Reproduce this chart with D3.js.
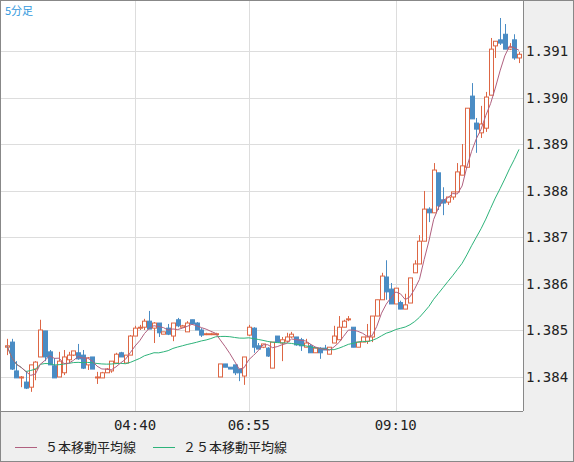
<!DOCTYPE html>
<html><head><meta charset="utf-8">
<script src="https://cdn.jsdelivr.net/npm/d3@7"></script>
<style>body{margin:0;background:#fff}svg{display:block}</style>
</head><body><svg id="c" width="574" height="462"></svg>
<script>
// prices expressed as 1.38 + v/100000 : [open, high, low, close]
const candlesV = [
[463,481,446,466],[474,481,414,416],[412,433,397,397],[397,401,377,399],[388,412,373,375],
[377,425,367,425],[416,433,392,431],[442,522,442,500],[498,498,433,442],[453,457,425,425],
[423,440,397,397],[399,453,399,433],[408,457,403,442],[436,453,429,446],[446,455,444,455],
[451,470,436,438],[446,457,416,418],[425,442,414,440],[442,442,416,416],[397,410,384,399],
[397,410,397,408],[408,418,408,416],[412,433,408,433],[429,451,429,448],[451,453,442,442],
[429,446,429,446],[446,489,446,487],[487,509,487,504],[504,511,500,506],[506,524,500,519],
[519,541,502,502],[504,517,472,515],[515,515,485,494],[491,496,491,496],[504,513,489,491],
[487,515,476,515],[522,526,506,509],[506,511,506,509],[496,519,496,515],[522,522,511,513],
[515,517,500,500],[500,504,485,489],[491,494,489,492],[491,494,489,492],[491,494,489,492],
[399,427,399,427],[427,427,420,420],[420,420,416,416],[425,425,403,408],[416,416,390,408],
[401,442,382,442],[489,511,487,506],[504,506,451,463],[466,472,459,459],[463,470,461,470],
[461,463,442,444],[418,474,418,474],[487,487,474,474],[472,485,433,479],[476,494,474,485],
[485,496,483,491],[485,485,466,468],[479,483,455,466],[463,481,463,472],[466,470,451,451],
[451,463,451,461],[461,463,438,451],[461,468,457,457],[448,463,448,463],[472,509,472,487],
[479,530,479,506],[506,522,506,519],[522,530,519,524],[506,506,463,463],[463,474,463,474],
[474,485,474,485],[476,513,470,485],[485,530,474,530],[530,565,530,565],[565,623,565,616],
[614,650,565,582],[588,601,556,556],[556,590,556,590],[559,563,545,545],[545,578,545,554],
[558,612,558,612],[623,650,623,642],[642,704,642,691],[691,799,691,760],[760,764,732,752],
[752,859,752,844],[838,838,758,767],[780,807,747,773],[775,786,769,786],[786,797,780,797],
[797,859,797,840],[833,900,833,853],[850,977,850,977],[1003,1031,954,954],[945,956,881,932],
[924,982,913,943],[934,1012,926,1001],[1005,1128,1005,1104],[1111,1121,1085,1121],[1124,1171,1113,1117],
[1136,1158,1104,1104],[1104,1117,1102,1108],[1124,1136,1081,1085],[1085,1098,1074,1093]
];
const timeLabels = ["04:40","06:55","09:10"];
const timeIdx = [27,51,82];
const yTicks = [1.384,1.385,1.386,1.387,1.388,1.389,1.390,1.391];
const legendNames = ["５本移動平均線","２５本移動平均線"];
const periodLabel = "5分足";

const data = candlesV.map(a=>({o:1.38+a[0]/1e5,h:1.38+a[1]/1e5,l:1.38+a[2]/1e5,c:1.38+a[3]/1e5}));
function sma(n){return data.map((d,i)=>{const s=data.slice(Math.max(0,i-n+1),i+1);return d3.mean(s,e=>e.c);});}
const ma5=sma(5), ma25=sma(25);

const svg=d3.select("#c");
const W=574,H=462,PR=523,PB=411;
svg.append("rect").attr("width",W).attr("height",H).attr("fill","#efefef");
svg.append("rect").attr("x",1).attr("y",1).attr("width",PR-1).attr("height",PB-1).attr("fill","#fff");
const x=d3.scaleLinear().domain([0,data.length-1]).range([7,519]);
const y=d3.scaleLinear().domain([1.385,1.391]).range([330,51]);
const g=svg.append("g");
g.selectAll(".gy").data(yTicks).join("line").attr("x1",1).attr("x2",PR).attr("y1",d=>Math.round(y(d))+0.5).attr("y2",d=>Math.round(y(d))+0.5).attr("stroke","#dddddd");
g.selectAll(".gx").data(timeIdx).join("line").attr("y1",0).attr("y2",PB).attr("x1",d=>Math.round(x(d))+0.5).attr("x2",d=>Math.round(x(d))+0.5).attr("stroke","#dddddd");
const up="#dd6644", dn="#4a8cc4";
const cg=g.selectAll(".cd").data(data).join("g");
cg.append("line").attr("x1",(d,i)=>Math.round(x(i))+0.5).attr("x2",(d,i)=>Math.round(x(i))+0.5)
 .attr("y1",d=>y(d.h)).attr("y2",d=>y(d.l)).attr("stroke",d=>d.c>=d.o?up:dn);
cg.append("rect").attr("x",(d,i)=>Math.round(x(i))-1.5).attr("width",4)
 .attr("y",d=>y(Math.max(d.o,d.c))).attr("height",d=>Math.max(1,Math.abs(y(d.o)-y(d.c))))
 .attr("fill",d=>d.c>=d.o?"#fff":dn).attr("stroke",d=>d.c>=d.o?up:dn).attr("stroke-width",1);
const line=d3.line().x((d,i)=>x(i)).y(d=>y(d));
g.append("path").attr("d",line(ma25)).attr("fill","none").attr("stroke","#2db37a").attr("stroke-width",1);
g.append("path").attr("d",line(ma5)).attr("fill","none").attr("stroke","#b0607f").attr("stroke-width",1);
svg.append("line").attr("x1",PR+0.5).attr("x2",PR+0.5).attr("y1",0).attr("y2",PB).attr("stroke","#888");
svg.append("line").attr("x1",0).attr("x2",PR).attr("y1",PB+0.5).attr("y2",PB+0.5).attr("stroke","#888");
svg.append("rect").attr("x",0.5).attr("y",0.5).attr("width",W-1).attr("height",H-1).attr("fill","none").attr("stroke","#888");
svg.selectAll(".yl").data(yTicks).join("text").attr("x",526).attr("y",d=>y(d)+5)
 .text(d=>d.toFixed(3)).attr("font-family","DejaVu Sans Mono").attr("font-size",14).attr("fill","#222");
svg.selectAll(".xl").data(timeIdx).join("text").attr("x",d=>x(d)).attr("y",430).attr("text-anchor","middle")
 .text((d,i)=>timeLabels[i]).attr("font-family","DejaVu Sans Mono").attr("font-size",14).attr("fill","#222");
svg.append("text").attr("x",5).attr("y",15).text(periodLabel).attr("font-family","Noto Sans CJK JP").attr("font-size",11).attr("fill","#3399dd");
const lx=[15,153], lc=["#b0607f","#2db37a"];
legendNames.forEach((n,i)=>{
 svg.append("line").attr("x1",lx[i]).attr("x2",lx[i]+22).attr("y1",447.5).attr("y2",447.5).attr("stroke",lc[i]);
 svg.append("text").attr("x",lx[i]+30).attr("y",452).text(n).attr("font-family","Noto Sans CJK JP").attr("font-size",13).attr("fill","#222");
});
</script></body></html>
